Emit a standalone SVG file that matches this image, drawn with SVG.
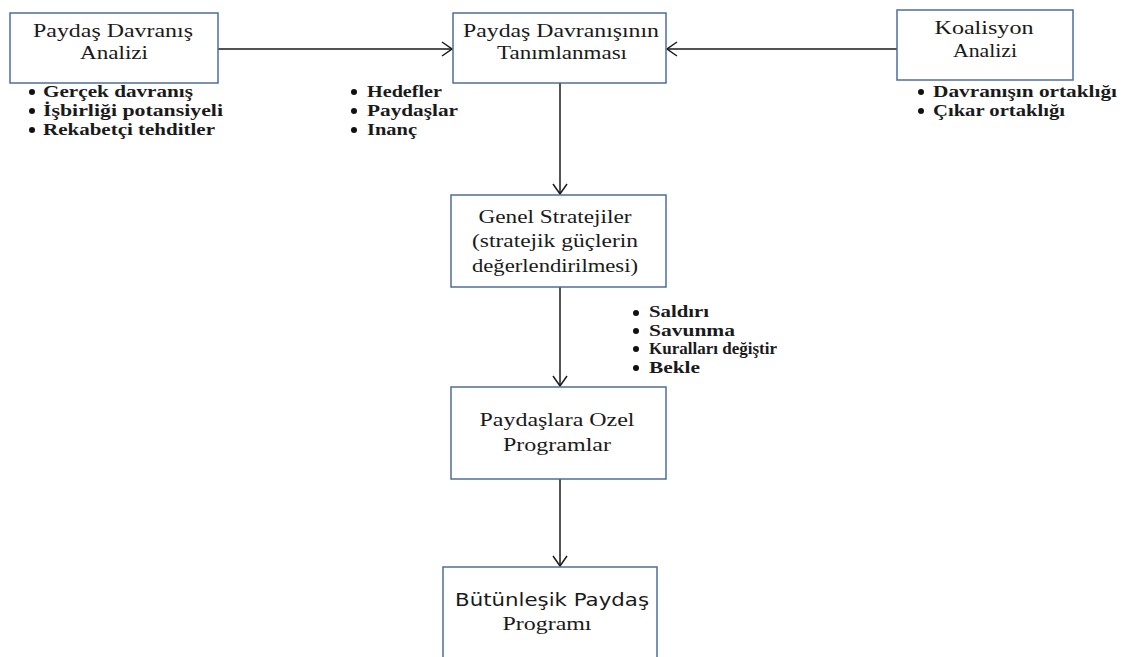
<svg xmlns="http://www.w3.org/2000/svg" width="1123" height="657" viewBox="0 0 1123 657">
<style>
.box{fill:#fff;stroke:#4f6d9c;stroke-width:1.5}
.t{font-family:'Liberation Serif','Tinos','DejaVu Serif',serif;font-size:19px;fill:#1a1a1a;text-anchor:middle}
.b{font-family:'Liberation Serif','Tinos','DejaVu Serif',serif;font-size:16px;font-weight:bold;fill:#1a1a1a}
.s{font-family:'DejaVu Sans','Liberation Sans',sans-serif;font-size:17px;fill:#1a1a1a;text-anchor:middle}
.c{stroke:#1a1a1a;stroke-width:1.5;fill:none}
.dot{fill:#111}
</style>
<defs>
<marker id="ah" viewBox="0 0 12 16" refX="11" refY="8" markerWidth="12" markerHeight="16" markerUnits="userSpaceOnUse" orient="auto">
<path d="M1,1 L11,8 L1,15" fill="none" stroke="#1a1a1a" stroke-width="1.5"/>
</marker>
</defs>
<rect width="1123" height="657" fill="#fff"/>
<g id="connectors">
<line class="c" x1="218" y1="49" x2="452" y2="49" marker-end="url(#ah)"/>
<line class="c" x1="897" y1="49" x2="667" y2="49" marker-end="url(#ah)"/>
<line class="c" x1="560" y1="83" x2="560" y2="194" marker-end="url(#ah)"/>
<line class="c" x1="560" y1="287" x2="560" y2="386" marker-end="url(#ah)"/>
<line class="c" x1="560" y1="479" x2="560" y2="566" marker-end="url(#ah)"/>
</g>
<g id="n1">
<rect class="box" x="10" y="13" width="208" height="70"/>
<text class="t" x="113" y="37" textLength="160" lengthAdjust="spacingAndGlyphs">Paydaş Davranış</text>
<text class="t" x="114" y="59" textLength="68" lengthAdjust="spacingAndGlyphs">Analizi</text>
</g>
<g id="n1-list">
<circle class="dot" cx="32" cy="92" r="3"/>
<circle class="dot" cx="32" cy="111" r="3"/>
<circle class="dot" cx="32" cy="130" r="3"/>
<text class="b" x="43" y="97" textLength="150" lengthAdjust="spacingAndGlyphs">Gerçek davranış</text>
<text class="b" x="43" y="116" textLength="180" lengthAdjust="spacingAndGlyphs">İşbirliği potansiyeli</text>
<text class="b" x="43" y="135" textLength="172" lengthAdjust="spacingAndGlyphs">Rekabetçi tehditler</text>
</g>
<g id="n2">
<rect class="box" x="453" y="13" width="213" height="70"/>
<text class="t" x="561" y="37" textLength="196" lengthAdjust="spacingAndGlyphs">Paydaş Davranışının</text>
<text class="t" x="562" y="59" textLength="130" lengthAdjust="spacingAndGlyphs">Tanımlanması</text>
</g>
<g id="n2-list">
<circle class="dot" cx="354" cy="92" r="3"/>
<circle class="dot" cx="354" cy="111" r="3"/>
<circle class="dot" cx="354" cy="130" r="3"/>
<text class="b" x="367" y="97" textLength="75" lengthAdjust="spacingAndGlyphs">Hedefler</text>
<text class="b" x="367" y="116" textLength="91" lengthAdjust="spacingAndGlyphs">Paydaşlar</text>
<text class="b" x="367" y="135" textLength="50" lengthAdjust="spacingAndGlyphs">Inanç</text>
</g>
<g id="n3">
<rect class="box" x="897" y="10" width="176" height="70"/>
<text class="t" x="984" y="34" textLength="99" lengthAdjust="spacingAndGlyphs">Koalisyon</text>
<text class="t" x="985" y="57" textLength="64" lengthAdjust="spacingAndGlyphs">Analizi</text>
</g>
<g id="n3-list">
<circle class="dot" cx="921" cy="92" r="3"/>
<circle class="dot" cx="921" cy="111" r="3"/>
<text class="b" x="933" y="97" textLength="184" lengthAdjust="spacingAndGlyphs">Davranışın ortaklığı</text>
<text class="b" x="933" y="116" textLength="132" lengthAdjust="spacingAndGlyphs">Çıkar ortaklığı</text>
</g>
<g id="n4">
<rect class="box" x="451" y="195" width="215" height="92"/>
<text class="t" x="555" y="223" textLength="153" lengthAdjust="spacingAndGlyphs">Genel Stratejiler</text>
<text class="t" x="555" y="247" textLength="166" lengthAdjust="spacingAndGlyphs">(stratejik güçlerin</text>
<text class="t" x="555" y="272" textLength="166" lengthAdjust="spacingAndGlyphs">değerlendirilmesi)</text>
</g>
<g id="n4-list">
<circle class="dot" cx="636" cy="313" r="3"/>
<circle class="dot" cx="636" cy="331" r="3"/>
<circle class="dot" cx="636" cy="349" r="3"/>
<circle class="dot" cx="636" cy="368" r="3"/>
<text class="b" x="649" y="317" textLength="60" lengthAdjust="spacingAndGlyphs">Saldırı</text>
<text class="b" x="649" y="336" textLength="86" lengthAdjust="spacingAndGlyphs">Savunma</text>
<text class="b" x="649" y="354" textLength="128" lengthAdjust="spacingAndGlyphs">Kuralları değiştir</text>
<text class="b" x="649" y="373" textLength="51" lengthAdjust="spacingAndGlyphs">Bekle</text>
</g>
<g id="n5">
<rect class="box" x="451" y="387" width="215" height="92"/>
<text class="t" x="557" y="426" textLength="155" lengthAdjust="spacingAndGlyphs">Paydaşlara Ozel</text>
<text class="t" x="557" y="451" textLength="108" lengthAdjust="spacingAndGlyphs">Programlar</text>
</g>
<g id="n6">
<rect class="box" x="443" y="567" width="214" height="100"/>
<text class="s" x="552" y="606" textLength="194" lengthAdjust="spacingAndGlyphs">Bütünleşik  Paydaş</text>
<text class="t" x="547" y="630" textLength="89" lengthAdjust="spacingAndGlyphs">Programı</text>
</g>
</svg>
